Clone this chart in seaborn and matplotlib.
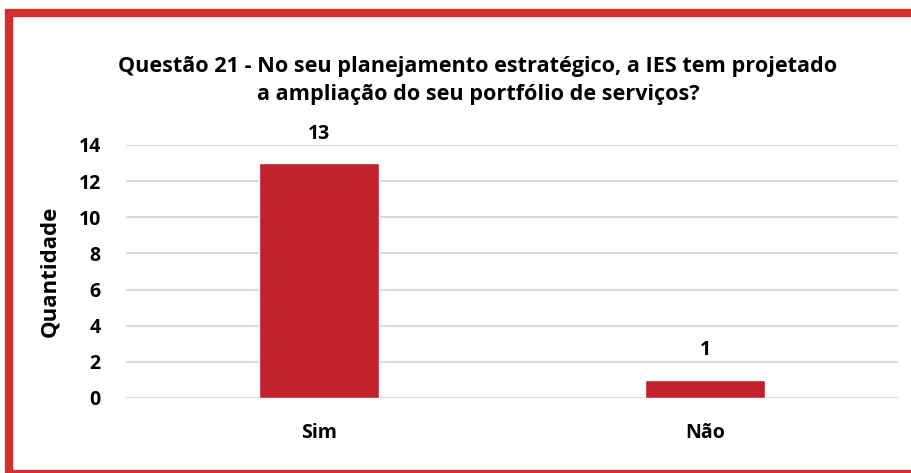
import matplotlib
matplotlib.use("Agg")
import matplotlib.pyplot as plt
import seaborn as sns
import pandas as pd
from matplotlib.patches import Rectangle

# Dados do gráfico
categorias = ["Sim", "Não"]
quantidades = [13, 1]
yticks = [0, 2, 4, 6, 8, 10, 12, 14]

df = pd.DataFrame({"Resposta": categorias, "Quantidade": quantidades})

sns.set_style("white")
plt.rcParams["font.family"] = ["Open Sans", "DejaVu Sans"]
plt.rcParams["font.weight"] = "bold"
plt.rcParams["text.color"] = "black"
plt.rcParams["axes.labelcolor"] = "black"
plt.rcParams["xtick.color"] = "black"
plt.rcParams["ytick.color"] = "black"

fig = plt.figure(figsize=(9.12, 4.73), dpi=100)
ax = fig.add_axes([0.138, 0.1586, 0.847, 0.535])

sns.barplot(data=df, x="Resposta", y="Quantidade", color="#C0212A",
            width=0.31, saturation=1, ax=ax, zorder=3)

ax.set_ylim(0, 14)
ax.set_xlim(-0.5, 1.5)
ax.set_yticks(yticks)
ax.yaxis.grid(True, color="#D9D9D9", linewidth=1.5, zorder=0)
for s in ax.spines.values():
    s.set_visible(False)
ax.tick_params(axis="both", length=0, labelsize=14)
ax.tick_params(axis="y", pad=18)
ax.tick_params(axis="x", pad=18)
for lbl in ax.get_xticklabels() + ax.get_yticklabels():
    lbl.set_fontweight("bold")
ax.set_xlabel("")
ax.set_ylabel("Quantidade", fontsize=16, fontweight="bold", labelpad=13)

for cont in ax.containers:
    ax.bar_label(cont, padding=14, fontsize=14, fontweight="bold")

fig.text(0.524, 0.83,
         "Questão 21 - No seu planejamento estratégico, a IES tem projetado\n"
         "a ampliação do seu portfólio de serviços?",
         ha="center", va="center", fontsize=15.6, fontweight="bold",
         linespacing=1.4)

# Moldura vermelha
fig.patches.append(Rectangle((9 / 912, -1 / 473), 1.2, (474 - 13) / 473,
                             transform=fig.transFigure, fill=False,
                             edgecolor="#D32F2F", linewidth=6,
                             figure=fig, clip_on=False))

fig.savefig("out.png", dpi=100)
